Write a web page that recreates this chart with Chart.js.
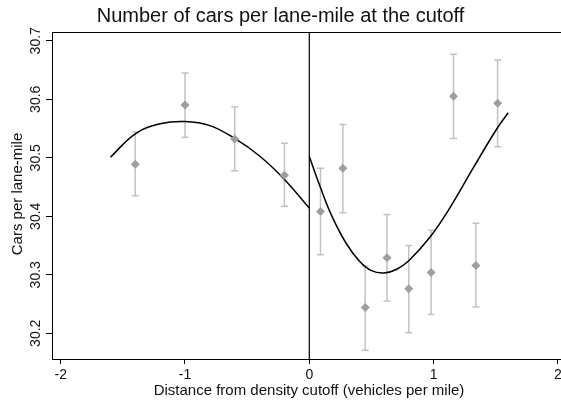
<!DOCTYPE html>
<html>
<head>
<meta charset="utf-8">
<script src="https://cdn.jsdelivr.net/npm/chart.js@4.4.0/dist/chart.umd.min.js"></script>
<style>
    html, body { margin: 0; padding: 0; background: #fff; }
    #wrap { width: 561px; height: 401px; }
</style>
</head>
<body>
<div id="wrap"><canvas id="rd_chart" width="561" height="401"></canvas></div>
<script>
// ========== DATA ==========

// binned means with 95% bands
const binX = [-1.4, -1.0, -0.6, -0.2, 0.09, 0.27, 0.45, 0.625, 0.80, 0.98, 1.16, 1.34, 1.515];
const binMean = [30.489, 30.590, 30.532, 30.470, 30.408, 30.482, 30.244, 30.329, 30.276, 30.304, 30.605, 30.316, 30.593];
const binLo = [30.435, 30.535, 30.478, 30.417, 30.334, 30.406, 30.171, 30.255, 30.201, 30.232, 30.533, 30.245, 30.519];
const binHi = [30.544, 30.645, 30.587, 30.525, 30.482, 30.557, 30.315, 30.403, 30.350, 30.376, 30.677, 30.388, 30.667];

// fitted polynomial, each side of the cutoff
const fitLeftX = [-1.6, -1.4, -1.2, -1.0, -0.8, -0.6, -0.4, -0.2, 0];
const fitLeftY = [30.501, 30.541, 30.558, 30.562, 30.555, 30.533, 30.503, 30.463, 30.414];
const fitRightX = [0, 0.09, 0.18, 0.29, 0.4, 0.5, 0.6, 0.7, 0.8, 0.97, 1.13, 1.32, 1.51, 1.6];
const fitRightY = [30.502, 30.449, 30.401, 30.356, 30.324, 30.307, 30.303, 30.309, 30.324, 30.364, 30.414, 30.483, 30.550, 30.577];

const xTicks = [-2, -1, 0, 1, 2];
const yTicks = [30.2, 30.3, 30.4, 30.5, 30.6, 30.7];

const X_MIN = -2.07, X_MAX = 2.025;
const Y_MIN = 30.156, Y_MAX = 30.715;

const FONT = '"Liberation Sans", Arial, Helvetica, sans-serif';

// ========== PLUGINS ==========

// error bars drawn under the markers
const errorBars = {
    id: 'errorBars',
    beforeDatasetsDraw(chart) {
        const ctx = chart.ctx;
        const xs = chart.scales.x;
        const ys = chart.scales.y;
        ctx.save();
        ctx.strokeStyle = '#c2c2c2';
        ctx.lineWidth = 1.5;
        binX.forEach((x, i) => {
            const px = xs.getPixelForValue(x);
            const top = ys.getPixelForValue(binHi[i]);
            const bot = ys.getPixelForValue(binLo[i]);
            ctx.beginPath();
            ctx.moveTo(px, top); ctx.lineTo(px, bot);
            ctx.moveTo(px - 3.5, top); ctx.lineTo(px + 3.5, top);
            ctx.moveTo(px - 3.5, bot); ctx.lineTo(px + 3.5, bot);
            ctx.stroke();
        });
        ctx.restore();
    }
};

// box + rotated y labels + x labels, Stata style
const frameAndLabels = {
    id: 'frameAndLabels',
    afterDraw(chart) {
        const ctx = chart.ctx;
        const area = chart.chartArea;
        const xs = chart.scales.x;
        const ys = chart.scales.y;
        ctx.save();

        ctx.strokeStyle = '#000';
        ctx.lineWidth = 1;
        ctx.beginPath();
        ctx.moveTo(area.left + 0.5, area.top + 0.5);
        ctx.lineTo(chart.width, area.top + 0.5);
        ctx.stroke();

        ctx.fillStyle = '#111';
        ctx.font = '14px ' + FONT;
        ctx.textAlign = 'center';
        ctx.textBaseline = 'middle';
        xTicks.forEach(v => {
            ctx.fillText(String(v), xs.getPixelForValue(v), 375);
        });
        yTicks.forEach(v => {
            ctx.save();
            ctx.translate(36, ys.getPixelForValue(v));
            ctx.rotate(-Math.PI / 2);
            ctx.fillText(v.toFixed(1), 0, 0);
            ctx.restore();
        });

        ctx.font = '15px ' + FONT;
        ctx.fillText('Distance from density cutoff (vehicles per mile)', 309, 391);
        ctx.save();
        ctx.translate(18, 194);
        ctx.rotate(-Math.PI / 2);
        ctx.fillText('Cars per lane-mile', 0, 0);
        ctx.restore();

        ctx.restore();
    }
};

// ========== CHART ==========

const pairs = (xs, ys) => xs.map((x, i) => ({ x: x, y: ys[i] }));

const ctx = document.getElementById('rd_chart').getContext('2d');
window.rdChart = new Chart(ctx, {
    type: 'scatter',
    data: {
        datasets: [
            {
                label: 'Bin means',
                data: pairs(binX, binMean),
                pointStyle: 'rectRot',
                pointRadius: 4.5,
                backgroundColor: '#9e9e9e',
                borderColor: '#9e9e9e',
                borderWidth: 0
            },
            {
                label: 'Fit left',
                type: 'line',
                data: pairs(fitLeftX, fitLeftY),
                borderColor: '#000',
                borderWidth: 1.5,
                pointRadius: 0,
                tension: 0.4,
                fill: false
            },
            {
                label: 'Fit right',
                type: 'line',
                data: pairs(fitRightX, fitRightY),
                borderColor: '#000',
                borderWidth: 1.5,
                pointRadius: 0,
                tension: 0.4,
                fill: false
            },
            {
                label: 'Cutoff',
                type: 'line',
                data: [{ x: 0, y: Y_MIN }, { x: 0, y: Y_MAX }],
                borderColor: '#000',
                borderWidth: 1.2,
                pointRadius: 0,
                fill: false
            }
        ]
    },
    options: {
        responsive: false,
        animation: false,
        devicePixelRatio: 1,
        layout: { autoPadding: false, padding: 0 },
        plugins: {
            legend: { display: false },
            tooltip: { enabled: false },
            title: {
                display: true,
                text: 'Number of cars per lane-mile at the cutoff',
                color: '#111',
                font: { family: FONT, size: 20, weight: 'normal' },
                padding: { top: 4, bottom: 4 }
            }
        },
        scales: {
            x: {
                type: 'linear',
                min: X_MIN,
                max: X_MAX,
                afterBuildTicks: s => { s.ticks = xTicks.map(v => ({ value: v })); },
                afterFit: s => { s.height = 42; },
                ticks: { display: false },
                grid: { drawOnChartArea: false, drawTicks: true, tickLength: 5, color: '#000' },
                border: { display: true, color: '#000', width: 1 }
            },
            y: {
                type: 'linear',
                min: Y_MIN,
                max: Y_MAX,
                afterBuildTicks: s => { s.ticks = yTicks.map(v => ({ value: v })); },
                afterFit: s => { s.width = 52; },
                ticks: { display: false },
                grid: { drawOnChartArea: false, drawTicks: true, tickLength: 6, color: '#000' },
                border: { display: true, color: '#000', width: 1 }
            }
        }
    },
    plugins: [errorBars, frameAndLabels]
});
</script>
</body>
</html>
